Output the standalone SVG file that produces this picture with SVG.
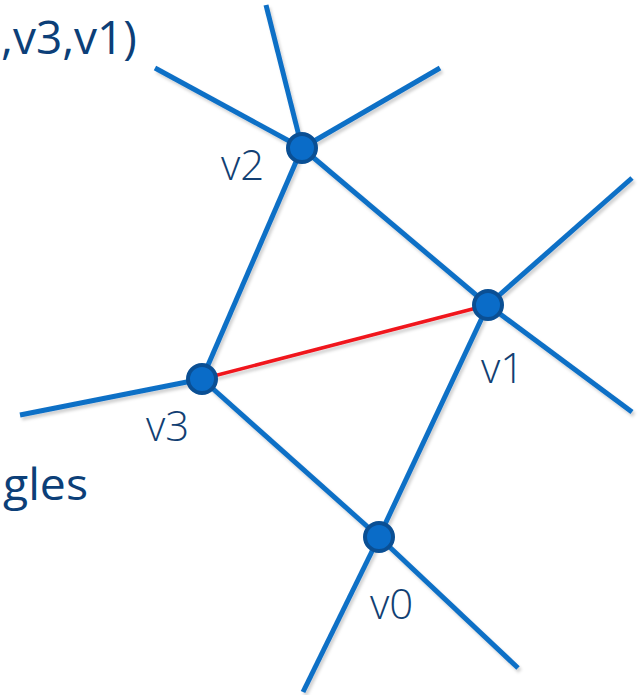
<svg xmlns="http://www.w3.org/2000/svg" width="639" height="695" viewBox="0 0 639 695">
<style>
.e{stroke:#0f6fc6;stroke-width:5;stroke-linecap:butt;fill:none}
.r{stroke:#f0141e;stroke-width:3.5;fill:none}
.n{fill:#0a6cc8;stroke:#0a4f94;stroke-width:4}
.lbl{font-family:"Open Sans","Noto Sans",sans-serif;font-weight:300;font-size:42px;fill:#123f73}
.t{font-family:"Open Sans","Noto Sans",sans-serif;font-weight:400;fill:#0c3f78}
</style>
<defs>
<filter id="sh" x="-10%" y="-10%" width="120%" height="120%">
<feDropShadow dx="2" dy="3" stdDeviation="1.5" flood-color="#000" flood-opacity="0.18"/>
</filter>
</defs>
<text class="t" x="1" y="54" font-size="46">,v3,v1)</text>
<text class="t" x="3" y="500" font-size="44" textLength="85" lengthAdjust="spacingAndGlyphs">gles</text>
<g id="connectors" filter="url(#sh)">
<line class="e" x1="266" y1="5" x2="302" y2="148"/>
<line class="e" x1="155" y1="68" x2="302" y2="148"/>
<line class="e" x1="440" y1="68" x2="302" y2="148"/>
<line class="e" x1="302" y1="148" x2="488" y2="305"/>
<line class="e" x1="302" y1="148" x2="202" y2="379"/>
<line class="e" x1="488" y1="305" x2="632" y2="178"/>
<line class="e" x1="488" y1="305" x2="632" y2="412"/>
<line class="e" x1="488" y1="305" x2="379" y2="537"/>
<line class="e" x1="202" y1="379" x2="20" y2="415"/>
<line class="e" x1="202" y1="379" x2="379" y2="537"/>
<line class="e" x1="379" y1="537" x2="518" y2="668"/>
<line class="e" x1="379" y1="537" x2="303" y2="692"/>
<line class="r" x1="202" y1="379" x2="488" y2="305"/>
</g>
<g id="v2"><circle class="n" cx="302" cy="148" r="14"/><text class="lbl" x="221" y="180">v2</text></g>
<g id="v1"><circle class="n" cx="488" cy="305" r="14"/><text class="lbl" x="481" y="383">v1</text></g>
<g id="v3"><circle class="n" cx="202" cy="379" r="14"/><text class="lbl" x="146" y="441">v3</text></g>
<g id="v0"><circle class="n" cx="379" cy="537" r="14"/><text class="lbl" x="370" y="619">v0</text></g>
</svg>
